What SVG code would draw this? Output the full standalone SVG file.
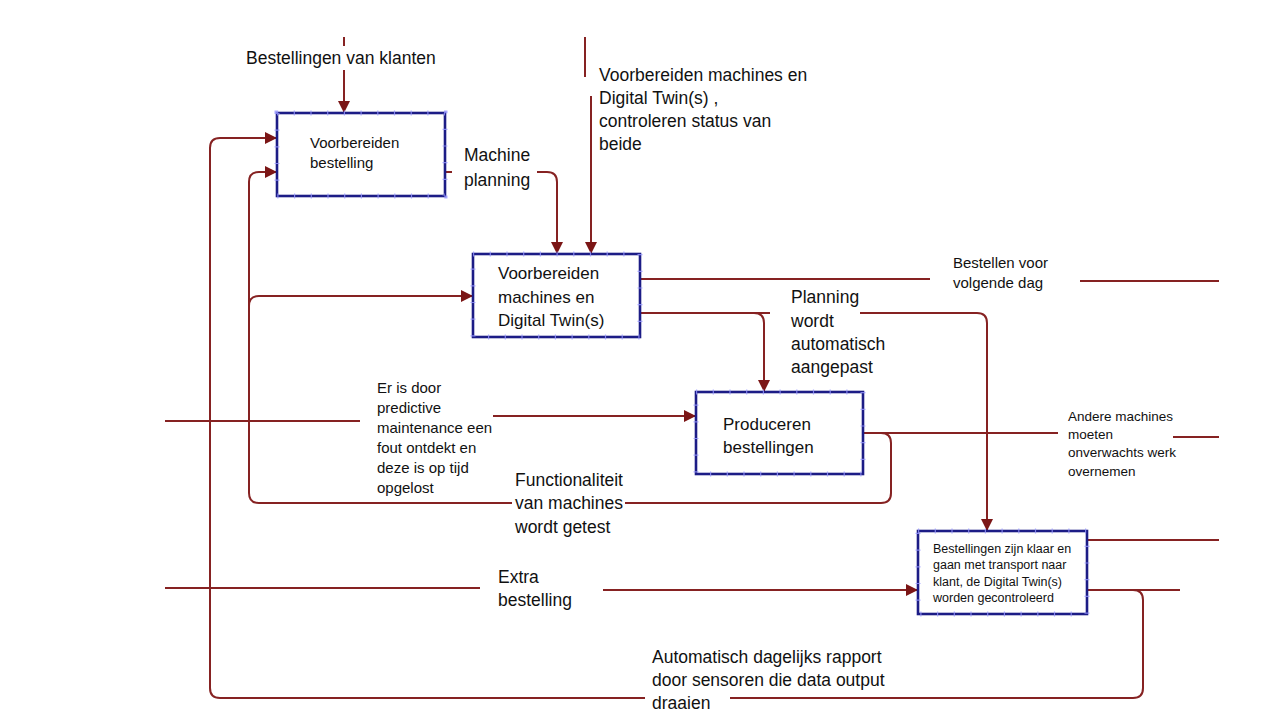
<svg xmlns="http://www.w3.org/2000/svg" width="1277" height="723" viewBox="0 0 1277 723">
<defs>
<marker id="arr" markerUnits="userSpaceOnUse" markerWidth="14" markerHeight="14" refX="12" refY="6" orient="auto">
<path d="M0,0 L12,6 L0,12 z" fill="#7b1616"/>
</marker>
<style>
.c{fill:none;stroke:#862222;stroke-width:2}
.a{marker-end:url(#arr)}
.box{fill:#fff;stroke:#1c1c86;stroke-width:2.6}
.tk{fill:none;stroke:#9a9aff;stroke-width:5;stroke-dasharray:1.2 15.5;opacity:.8}
.t{font-family:"Liberation Sans",Arial,sans-serif;fill:#111}
.l{font-size:17.5px}
</style>
</defs>
<rect width="1277" height="723" fill="#fff"/>
<g id="connectors">
<path class="c" d="M344,37 V46"/>
<path class="c a" d="M344,70 V113"/>
<path class="c" d="M585,37 V77"/>
<path class="c a" d="M591,96 V254"/>
<path class="c" d="M445,172 H452"/>
<path class="c a" d="M537,172 H547 Q557,172 557,182 V254"/>
<path class="c" d="M1087,590 H1180"/>
<path class="c" d="M1133,590 Q1143,590 1143,600 V688 Q1143,698 1133,698 H730"/>
<path class="c a" d="M645,698 H220 Q210,698 210,688 V148 Q210,138 220,138 H277"/>
<path class="c" d="M863,433 H1058"/>
<path class="c" d="M881,433 Q891,433 891,443 V493 Q891,503 881,503 H625"/>
<path class="c a" d="M512,503 H259 Q249,503 249,493 V182 Q249,172 259,172 H277"/>
<path class="c a" d="M249,306 Q249,296 259,296 H473"/>
<path class="c" d="M640,279 H930"/>
<path class="c" d="M1080,281 H1219"/>
<path class="c" d="M640,313 H770"/>
<path class="c a" d="M754,313 Q764,313 764,323 V392"/>
<path class="c a" d="M860,313 H977 Q987,313 987,323 V531"/>
<path class="c" d="M165,421 H360"/>
<path class="c a" d="M493,416 H696"/>
<path class="c" d="M1173,437 H1219"/>
<path class="c" d="M165,588 H480"/>
<path class="c a" d="M603,590 H918"/>
<path class="c" d="M1087,540 H1219"/>
</g>
<g id="node-voorbereiden-bestelling">
<rect class="box" x="277" y="113" width="168" height="83"/>
<rect class="tk" x="277" y="113" width="168" height="83"/>
<text class="t" font-size="15" x="310" y="148">Voorbereiden</text>
<text class="t" font-size="15" x="310" y="168">bestelling</text>
</g>
<g id="node-voorbereiden-machines">
<rect class="box" x="473" y="254" width="167" height="83"/>
<rect class="tk" x="473" y="254" width="167" height="83"/>
<text class="t" font-size="17" x="498" y="279">Voorbereiden</text>
<text class="t" font-size="17" x="498" y="303">machines en</text>
<text class="t" font-size="17" x="498" y="326">Digital Twin(s)</text>
</g>
<g id="node-produceren">
<rect class="box" x="696" y="392" width="167" height="82"/>
<rect class="tk" x="696" y="392" width="167" height="82"/>
<text class="t" font-size="17" x="723" y="430">Produceren</text>
<text class="t" font-size="17" x="723" y="453">bestellingen</text>
</g>
<g id="node-bestellingen-klaar">
<rect class="box" x="918" y="531" width="169" height="83"/>
<rect class="tk" x="918" y="531" width="169" height="83"/>
<text class="t" font-size="12.5" x="933" y="553">Bestellingen zijn klaar en</text>
<text class="t" font-size="12.5" x="933" y="569">gaan met transport  naar</text>
<text class="t" font-size="12.5" x="933" y="586">klant, de Digital Twin(s)</text>
<text class="t" font-size="12.5" x="933" y="602">worden gecontroleerd</text>
</g>
<g id="labels">
<text class="t l" x="246" y="64">Bestellingen van klanten</text>
<text class="t l" x="599" y="81">Voorbereiden machines en</text>
<text class="t l" x="599" y="104">Digital Twin(s) ,</text>
<text class="t l" x="599" y="127">controleren status van</text>
<text class="t l" x="599" y="150">beide</text>
<text class="t l" x="464" y="161">Machine</text>
<text class="t l" x="464" y="186">planning</text>
<text class="t" font-size="15" x="953" y="268">Bestellen voor</text>
<text class="t" font-size="15" x="953" y="288">volgende dag</text>
<text class="t l" x="791" y="303">Planning</text>
<text class="t l" x="791" y="327">wordt</text>
<text class="t l" x="791" y="350">automatisch</text>
<text class="t l" x="791" y="373">aangepast</text>
<text class="t" font-size="15" x="377" y="393">Er is door</text>
<text class="t" font-size="15" x="377" y="413">predictive</text>
<text class="t" font-size="15" x="377" y="433">maintenance een</text>
<text class="t" font-size="15" x="377" y="453">fout ontdekt en</text>
<text class="t" font-size="15" x="377" y="473">deze is op tijd</text>
<text class="t" font-size="15" x="377" y="493">opgelost</text>
<text class="t" font-size="13.5" x="1068" y="421">Andere machines</text>
<text class="t" font-size="13.5" x="1068" y="439">moeten</text>
<text class="t" font-size="13.5" x="1068" y="457">onverwachts werk</text>
<text class="t" font-size="13.5" x="1068" y="476">overnemen</text>
<text class="t l" x="515" y="486">Functionaliteit</text>
<text class="t l" x="515" y="509">van machines</text>
<text class="t l" x="515" y="533">wordt getest</text>
<text class="t l" x="498" y="583">Extra</text>
<text class="t l" x="498" y="606">bestelling</text>
<text class="t l" x="652" y="663">Automatisch dagelijks rapport</text>
<text class="t l" x="652" y="686">door sensoren die data output</text>
<text class="t l" x="652" y="709">draaien</text>
</g>
</svg>
